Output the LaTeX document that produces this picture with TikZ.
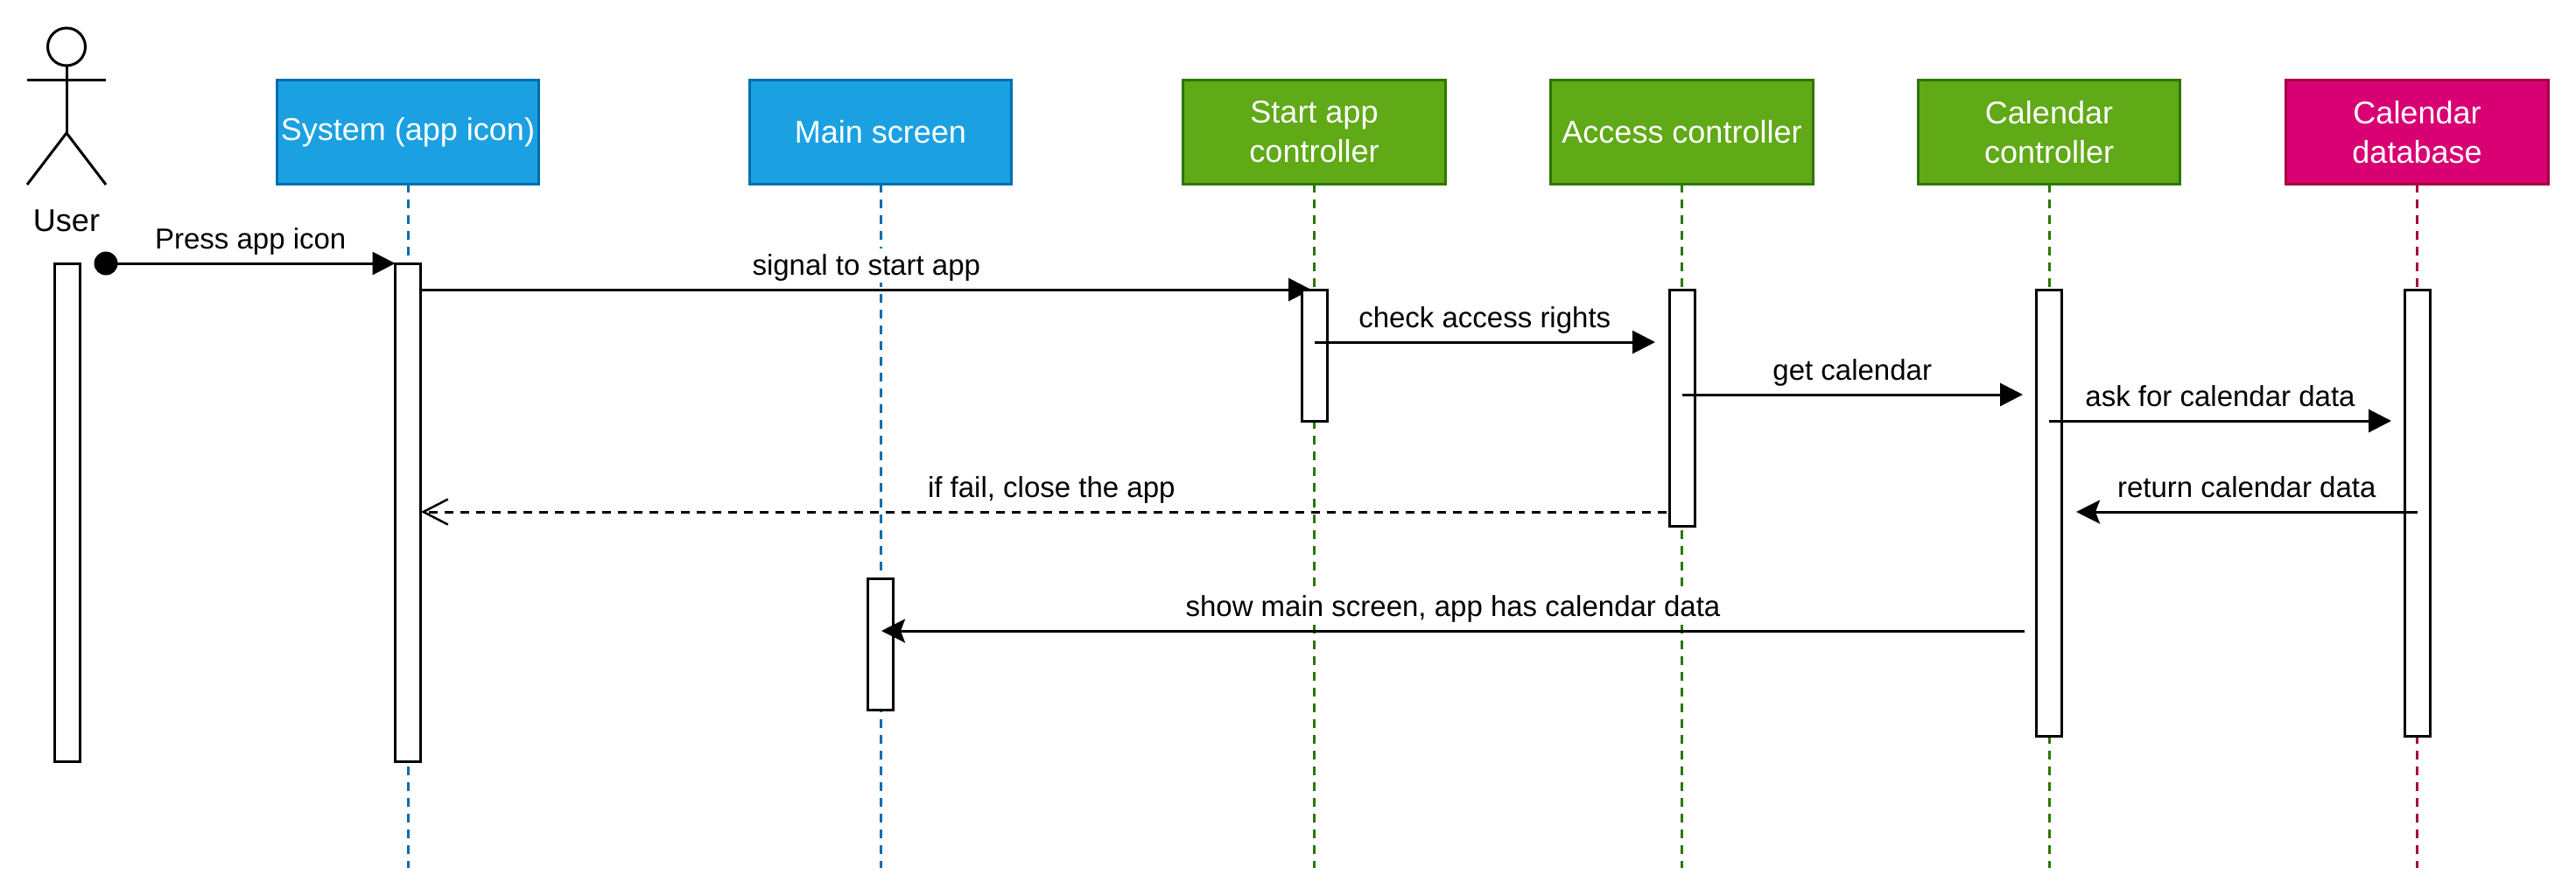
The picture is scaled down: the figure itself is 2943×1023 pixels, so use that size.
\documentclass[tikz,border=0pt]{standalone}
\usepackage{fontspec}
\setmainfont{Liberation Sans}
\usepackage[HTML]{xcolor}
\usepackage{tikz}
\usetikzlibrary{positioning, arrows.meta}

\definecolor{blueFill}{HTML}{1BA1E2}
\definecolor{blueLine}{HTML}{006EAF}
\definecolor{greenFill}{HTML}{60A917}
\definecolor{greenLine}{HTML}{2D7600}
\definecolor{pinkFill}{HTML}{D80073}
\definecolor{pinkLine}{HTML}{A50040}

\begin{document}
\begin{tikzpicture}[x=1pt, y=-1pt, line width=3pt,
  lifebox/.style 2 args={draw=#1, fill=#2, text=white, minimum width=299.5pt, minimum height=118.5pt,
    outer sep=0pt, inner sep=0pt, align=center, font=\fontsize{36}{45}\selectfont},
  lifeline/.style={draw=#1, dash pattern=on 10pt off 8pt},
  act/.style={draw=black, fill=white, minimum width=29pt, outer sep=0pt, inner sep=0pt, anchor=north},
  msglabel/.style={fill=white, inner xsep=2pt, inner ysep=0pt, text height=31pt, text depth=8pt,
    above=7pt, font=\fontsize{33}{39}\selectfont},
  msg/.style={-{Triangle[length=26pt,width=26pt]}},
  reply/.style={-{Stealth[length=27pt,width=27pt,inset=5pt]}},
  failmsg/.style={-{Straight Barb[length=28pt,width=29pt,line width=2.5pt]}, dash pattern=on 10pt off 8pt}]
\useasboundingbox (0,0) rectangle (2943,1023);
% user
\node[draw, circle, minimum size=43pt, inner sep=0pt, outer sep=0pt] (userhead) at (76,53.5) {};
\coordinate (userhip) at (76,152);
\coordinate (userarml) at (31,91);
\coordinate (userarmr) at (121,91);
\coordinate (userfootl) at (31,211);
\coordinate (userfootr) at (121,211);
\draw (userhead) -- (userhip);
\draw (userarml) -- (userarmr);
\draw (userfootl) -- (userhip) -- (userfootr);
\node[font=\fontsize{36}{45}\selectfont] (username) at (76,252) {User};
% participants
\node[lifebox={blueLine}{blueFill}] (sysbox) at (466,151) {System (app icon)};
\node[lifebox={blueLine}{blueFill}] (mainbox) at (1006,151) {Main screen};
\node[lifebox={greenLine}{greenFill}] (startbox) at (1501.5,151) {Start app\\controller};
\node[lifebox={greenLine}{greenFill}] (accessbox) at (1921.5,151) {Access controller};
\node[lifebox={greenLine}{greenFill}] (calbox) at (2341,151) {Calendar\\controller};
\node[lifebox={pinkLine}{pinkFill}] (dbbox) at (2761.5,151) {Calendar\\database};
% lifelines
\coordinate (sysend) at (466,992);
\coordinate (mainend) at (1006,992);
\coordinate (startend) at (1501.5,992);
\coordinate (accessend) at (1921.5,992);
\coordinate (calend) at (2341,992);
\coordinate (dbend) at (2761.5,992);
\draw[lifeline=blueLine] (sysbox) -- (sysend);
\draw[lifeline=blueLine] (mainbox) -- (mainend);
\draw[lifeline=greenLine] (startbox) -- (startend);
\draw[lifeline=greenLine] (accessbox) -- (accessend);
\draw[lifeline=greenLine] (calbox) -- (calend);
\draw[lifeline=pinkLine] (dbbox) -- (dbend);
% first activations
\node[act, minimum height=569.5pt] (useract) at (76.5,301) {};
\node[act, minimum height=569.5pt] (sysact) at (466,301) {};
% messages under the activations they touch
\coordinate (signalfrom) at (481.5,331);
\coordinate (signalto) at (1498,331);
\draw[msg] (signalfrom) -- (signalto) node[msglabel, midway] (signallabel) {signal to start app};
\coordinate (failfrom) at (1921.5,585);
\coordinate (failto) at (481,585);
\draw[failmsg] (failfrom) -- (failto) node[msglabel, midway] (faillabel) {if fail, close the app};
% other activations
\node[act, minimum height=150pt] (mainact) at (1006,661) {};
\node[act, minimum height=150pt] (startact) at (1501.5,331) {};
\node[act, minimum height=270pt] (accessact) at (1921.5,331) {};
\node[act, minimum height=510pt] (calact) at (2341,331) {};
\node[act, minimum height=510pt] (dbact) at (2761.5,331) {};
% messages
\node[circle, fill=black, minimum size=27pt, inner sep=0pt] (pressdot) at (121,301) {};
\draw[msg] (pressdot.center) -- (sysact.north west) node[msglabel, midway] (presslabel) {Press app icon};
\coordinate (checkfrom) at (1501.5,391);
\coordinate (checkto) at (1891,391);
\draw[msg] (checkfrom) -- (checkto) node[msglabel, midway] (checklabel) {check access rights};
\coordinate (getfrom) at (1921.5,451);
\coordinate (getto) at (2311,451);
\draw[msg] (getfrom) -- (getto) node[msglabel, midway] (getlabel) {get calendar};
\coordinate (askfrom) at (2341,481);
\coordinate (askto) at (2732,481);
\draw[msg] (askfrom) -- (askto) node[msglabel, midway] (asklabel) {ask for calendar data};
\coordinate (returnfrom) at (2761.5,585);
\coordinate (returnto) at (2372,585);
\draw[reply] (returnfrom) -- (returnto) node[msglabel, midway] (returnlabel) {return calendar data};
\coordinate (showfrom) at (2313,721);
\coordinate (showto) at (1007,721);
\draw[reply] (showfrom) -- (showto) node[msglabel, midway] (showlabel) {show main screen, app has calendar data};
\end{tikzpicture}
\end{document}
